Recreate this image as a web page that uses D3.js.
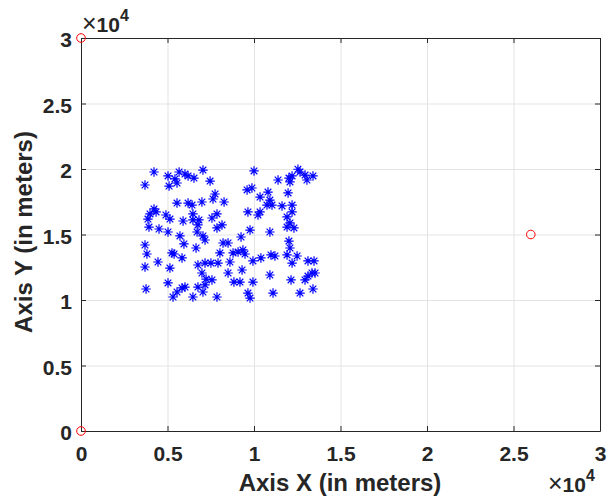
<!DOCTYPE html>
<html>
<head>
<meta charset="utf-8">
<script src="https://cdn.jsdelivr.net/npm/d3@7"></script>
<style>
  body { margin: 0; background: #fff; }
  text { font-family: "Liberation Sans", Arial, sans-serif; }
</style>
</head>
<body>
<div id="chart"></div>
<script>
// sensor positions (meters)
var nodeX = [
  4220, 5030, 5670, 6010, 6190, 6530, 7050, 5430, 5550, 5090,
  3700, 7460, 7750, 7630, 8270, 6990, 6190, 6420, 5550, 4220,
  4340, 3990, 3870, 4910, 5140, 5900, 6470, 6470, 6820, 6760,
  7570, 7860, 8150, 7860, 3930, 4510, 5030, 6710, 10000, 11390,
  12020, 12080, 12200, 12540, 12660, 12950, 13060, 13410, 9600, 9880,
  10350, 10810, 11970, 10920, 10750, 11040, 11620, 12200, 12200, 9650,
  10350, 10230, 11910, 12080, 11910, 12310, 9770, 10920, 3700, 3810,
  3700, 4450, 3760, 5720, 5950, 5260, 5380, 5840, 5140, 6650,
  7170, 7050, 6760, 7170, 7510, 6990, 7230, 7570, 5030, 6010,
  5840, 5550, 5320, 6760, 7050, 6470, 7860, 7170, 8030, 8210,
  8500, 7920, 8500, 8610, 8790, 9080, 9250, 9310, 8840, 9190,
  12020, 12080, 9360, 9480, 9940, 10400, 10980, 11210, 11910, 12200,
  12490, 13120, 13470, 10920, 9940, 12140, 12950, 13350, 13530, 13410,
  9650, 11100, 12660, 9770, 13120
];
var nodeY = [
  19770, 19470, 19770, 19620, 19470, 19310, 19920, 19240, 18930, 18700,
  18780, 19080, 18090, 17710, 17480, 17480, 17400, 17250, 17400, 16950,
  16720, 16570, 16180, 16490, 16180, 16030, 16570, 16110, 16110, 15730,
  16260, 16570, 15730, 15500, 15570, 15420, 15190, 15190, 19850, 19160,
  19310, 19010, 19470, 19980, 19770, 19540, 19160, 19470, 18400, 18550,
  17860, 18240, 18170, 17630, 17250, 17250, 17180, 17250, 16720, 16720,
  16720, 16490, 16340, 15880, 15570, 15500, 15340, 15190, 14200, 13510,
  12520, 12900, 10840, 14890, 14280, 13590, 13510, 13210, 12440, 13970,
  14580, 14890, 12670, 12820, 12820, 12060, 11600, 11530, 11300, 10990,
  10920, 10610, 10230, 10990, 10610, 10230, 10230, 11150, 13590, 14350,
  14350, 12820, 12060, 12900, 13590, 13660, 14810, 12290, 11370, 11370,
  14500, 13970, 13820, 13510, 12980, 13210, 13440, 13360, 13440, 12820,
  13360, 12980, 12980, 11910, 11370, 11530, 11530, 12060, 12060, 10840,
  10530, 10530, 10530, 10150, 11830
];
// anchor / sink positions (red circles)
var anchorX = [0, 0, 26000];
var anchorY = [0, 30000, 15000];

var tickVals = [0, 5000, 10000, 15000, 20000, 25000, 30000];
var tickLabels = ["0", "0.5", "1", "1.5", "2", "2.5", "3"];

var W = 613, H = 497;
var plotL = 81, plotR = 600, plotT = 38, plotB = 431;

var svg = d3.select("#chart").append("svg")
  .attr("width", W)
  .attr("height", H);

var x = d3.scaleLinear().domain([0, 30000]).range([plotL, plotR]);
var y = d3.scaleLinear().domain([0, 30000]).range([plotB, plotT]);

// grid
svg.append("g")
  .attr("transform", "translate(0," + plotB + ")")
  .call(d3.axisBottom(x).tickValues(tickVals).tickSize(-(plotB - plotT)).tickFormat(""))
  .call(function(g) {
    g.select(".domain").remove();
    g.selectAll("line").attr("stroke", "#e3e3e3");
  });
svg.append("g")
  .attr("transform", "translate(" + plotL + ",0)")
  .call(d3.axisLeft(y).tickValues(tickVals).tickSize(-(plotR - plotL)).tickFormat(""))
  .call(function(g) {
    g.select(".domain").remove();
    g.selectAll("line").attr("stroke", "#e3e3e3");
  });

// nodes: asterisk markers
var r = 4.7, d = r * 0.7071;
var star = "M" + (-r) + ",0L" + r + ",0M0," + (-r) + "L0," + r +
  "M" + (-d) + "," + (-d) + "L" + d + "," + d + "M" + (-d) + "," + d + "L" + d + "," + (-d);

svg.append("g")
  .selectAll("path")
  .data(nodeX)
  .enter()
  .append("path")
    .attr("d", star)
    .attr("transform", function(v, i) { return "translate(" + x(v) + "," + y(nodeY[i]) + ")"; })
    .style("fill", "none")
    .style("stroke", "#0000ff")
    .style("stroke-width", 1.2);

// axes box with inward ticks
function styleAxis(g) {
  g.select(".domain").attr("stroke", "#262626").attr("stroke-width", 1);
  g.selectAll(".tick line").attr("stroke", "#262626");
  g.selectAll("text")
    .attr("fill", "#262626")
    .style("font-size", "21px")
    .style("font-weight", "bold");
}

svg.append("g")
  .attr("transform", "translate(0," + plotB + ")")
  .call(d3.axisBottom(x).tickValues(tickVals).tickSizeInner(-5).tickSizeOuter(0).tickPadding(15)
    .tickFormat(function(v, i) { return tickLabels[i]; }))
  .call(styleAxis);
svg.append("g")
  .attr("transform", "translate(0," + plotT + ")")
  .call(d3.axisTop(x).tickValues(tickVals).tickSizeInner(-5).tickSizeOuter(0).tickFormat(""))
  .call(styleAxis);
svg.append("g")
  .attr("transform", "translate(" + plotL + ",0)")
  .call(d3.axisLeft(y).tickValues(tickVals).tickSizeInner(-5).tickSizeOuter(0).tickPadding(9)
    .tickFormat(function(v, i) { return tickLabels[i]; }))
  .call(styleAxis)
  .call(function(g) { g.selectAll("text").attr("dy", "0.42em"); });
svg.append("g")
  .attr("transform", "translate(" + plotR + ",0)")
  .call(d3.axisRight(y).tickValues(tickVals).tickSizeInner(-5).tickSizeOuter(0).tickFormat(""))
  .call(styleAxis);

// anchors: red open circles
svg.append("g")
  .selectAll("circle")
  .data(anchorX)
  .enter()
  .append("circle")
    .attr("cx", function(v) { return x(v); })
    .attr("cy", function(v, i) { return y(anchorY[i]); })
    .attr("r", 4.3)
    .style("fill", "none")
    .style("stroke", "#ff0000")
    .style("stroke-width", 1);

// axis labels
svg.append("text")
  .attr("x", 340)
  .attr("y", 491)
  .attr("text-anchor", "middle")
  .attr("fill", "#262626")
  .style("font-size", "24px")
  .style("font-weight", "bold")
  .text("Axis X (in meters)");

svg.append("text")
  .attr("transform", "translate(32," + 232 + ") rotate(-90)")
  .attr("text-anchor", "middle")
  .attr("fill", "#262626")
  .style("font-size", "24px")
  .style("font-weight", "bold")
  .text("Axis Y (in meters)");

// exponent labels
function expLabel(px, py) {
  var t = svg.append("text")
    .attr("x", px)
    .attr("y", py)
    .attr("fill", "#262626");
  t.append("tspan").style("font-size", "25px").text("\u00d7");
  t.append("tspan").style("font-size", "21px").style("font-weight", "bold").text("10");
  t.append("tspan").attr("dy", -11).style("font-size", "16px").style("font-weight", "bold").text("4");
}
expLabel(82, 32);
expLabel(548, 492);
</script>
</body>
</html>
